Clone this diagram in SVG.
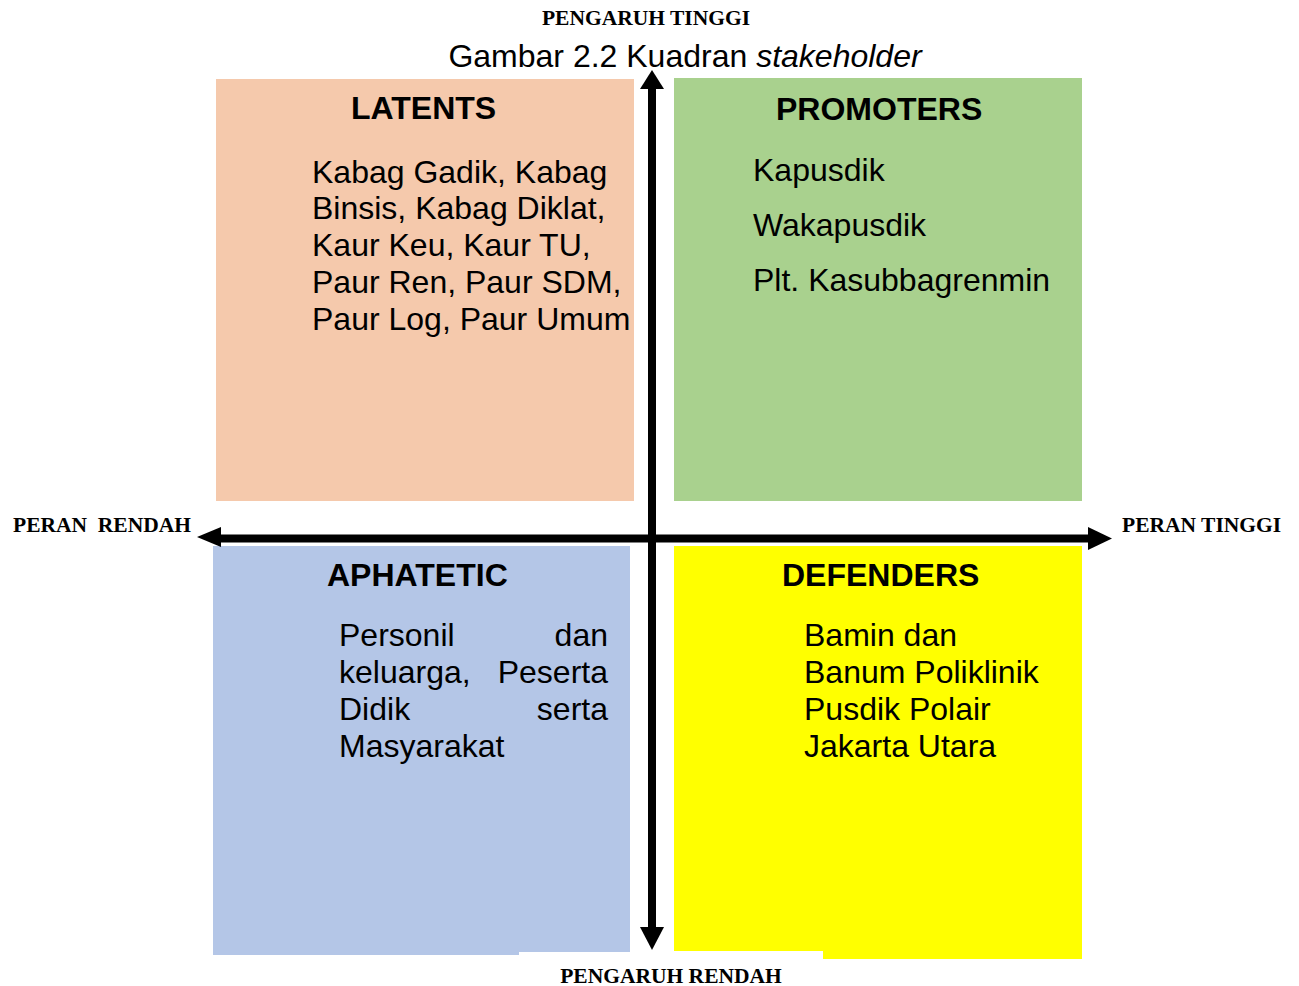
<svg xmlns="http://www.w3.org/2000/svg" width="1299" height="986" viewBox="0 0 1299 986">
<style>
.ax{font-family:"Liberation Serif","Times New Roman",serif;font-weight:bold;font-size:21.5px;fill:#000}
.hd{font-family:"Liberation Sans",Arial,sans-serif;font-weight:bold;font-size:32px;fill:#000}
.tx{font-family:"Liberation Sans",Arial,sans-serif;font-size:32px;fill:#000}
.ln{stroke:#000;stroke-width:8;fill:none}
</style>
<rect width="1299" height="986" fill="#fff"/>
<text class="tx" x="685" y="67" text-anchor="middle">Gambar 2.2 Kuadran <tspan font-style="italic">stakeholder</tspan></text>
<g id="latents">
<rect x="216" y="79" width="418" height="422" fill="#F5C9AC"/>
<text class="hd" x="351" y="119">LATENTS</text>
<text class="tx" x="312" y="183">Kabag Gadik, Kabag</text>
<text class="tx" x="312" y="219">Binsis, Kabag Diklat,</text>
<text class="tx" x="312" y="256">Kaur Keu, Kaur TU,</text>
<text class="tx" x="312" y="293">Paur Ren, Paur SDM,</text>
<text class="tx" x="312" y="330">Paur Log, Paur Umum</text>
</g>
<g id="promoters">
<rect x="674" y="78" width="408" height="423" fill="#A9D18E"/>
<text class="hd" x="776" y="120">PROMOTERS</text>
<text class="tx" x="753" y="181">Kapusdik</text>
<text class="tx" x="753" y="236">Wakapusdik</text>
<text class="tx" x="753" y="291">Plt. Kasubbagrenmin</text>
</g>
<g id="aphatetic">
<path d="M213 546H630V952H519V955H213Z" fill="#B4C6E7"/>
<text class="hd" x="327" y="586">APHATETIC</text>
<text class="tx" x="339" y="646">Personil</text>
<text class="tx" x="608" y="646" text-anchor="end">dan</text>
<text class="tx" x="339" y="683">keluarga,</text>
<text class="tx" x="608" y="683" text-anchor="end">Peserta</text>
<text class="tx" x="339" y="720">Didik</text>
<text class="tx" x="608" y="720" text-anchor="end">serta</text>
<text class="tx" x="339" y="757">Masyarakat</text>
</g>
<g id="defenders">
<path d="M674 546H1082V959H823V951H674Z" fill="#FFFF00"/>
<text class="hd" x="782" y="586">DEFENDERS</text>
<text class="tx" x="804" y="646">Bamin dan</text>
<text class="tx" x="804" y="683">Banum Poliklinik</text>
<text class="tx" x="804" y="720">Pusdik Polair</text>
<text class="tx" x="804" y="757">Jakarta Utara</text>
</g>
<g id="connectors">
<line class="ln" x1="652" y1="86" x2="652" y2="930"/>
<polygon points="652,70 640,89 664,89"/>
<polygon points="652,950 640,927 664,927"/>
<line class="ln" x1="219" y1="538.5" x2="1090" y2="538.5"/>
<polygon points="197,537 221,527 221,547"/>
<polygon points="1112,538.5 1088,527 1088,550"/>
</g>
<g id="labels">
<text class="ax" x="646" y="25" text-anchor="middle">PENGARUH TINGGI</text>
<text class="ax" x="13" y="532" xml:space="preserve">PERAN  RENDAH</text>
<text class="ax" x="1122" y="532">PERAN TINGGI</text>
<text class="ax" x="671" y="983" text-anchor="middle">PENGARUH RENDAH</text>
</g>
</svg>
